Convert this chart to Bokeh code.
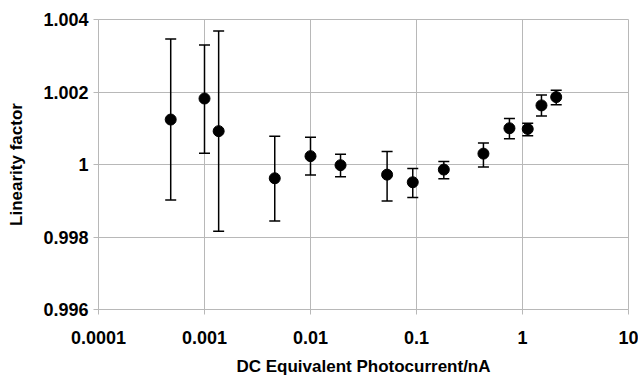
from bokeh.plotting import figure
from bokeh.models import ColumnDataSource, Whisker, TeeHead, FixedTicker, Range1d
from bokeh.embed import file_html
from bokeh.resources import INLINE

# Data
photocurrent = [0.00048, 0.00100, 0.00136, 0.0046, 0.0100, 0.0192, 0.0528, 0.0922,
                0.181, 0.428, 0.753, 1.12, 1.51, 2.08]
linearity = [1.00124, 1.00182, 1.00092, 0.99962, 1.00023, 0.99998, 0.99972, 0.99951,
             0.99986, 1.00030, 1.00100, 1.00098, 1.00163, 1.00186]
err_up = [0.00222, 0.00148, 0.00276, 0.00116, 0.00052, 0.00030, 0.00064, 0.00038,
          0.00022, 0.00029, 0.00027, 0.00016, 0.00029, 0.00019]
err_down = [0.00222, 0.00151, 0.00276, 0.00118, 0.00052, 0.00032, 0.00073, 0.00042,
            0.00025, 0.00037, 0.00029, 0.00019, 0.00029, 0.00021]

x_ticks = [0.0001, 0.001, 0.01, 0.1, 1, 10]
x_tick_labels = ["0.0001", "0.001", "0.01", "0.1", "1", "10"]
y_ticks = [0.996, 0.998, 1.0, 1.002, 1.004]
y_tick_labels = ["0.996", "0.998", "1", "1.002", "1.004"]

src = ColumnDataSource(dict(
    x=photocurrent, y=linearity,
    upper=[v + e for v, e in zip(linearity, err_up)],
    lower=[v - e for v, e in zip(linearity, err_down)],
))

p = figure(x_axis_type="log", frame_width=530, frame_height=290,
           x_range=Range1d(0.0001, 10), y_range=Range1d(0.996, 1.004),
           output_backend="svg", toolbar_location=None,
           min_border_left=98, min_border_right=10, min_border_top=19, min_border_bottom=66)

grey = "#b8b8b8"
p.outline_line_color = grey
p.background_fill_color = "white"
p.border_fill_color = "white"

p.xaxis.ticker = FixedTicker(ticks=x_ticks, minor_ticks=[])
p.yaxis.ticker = FixedTicker(ticks=y_ticks, minor_ticks=[])
p.xaxis.major_label_overrides = {t: l for t, l in zip(x_ticks, x_tick_labels)}
p.yaxis.major_label_overrides = {t: l for t, l in zip(y_ticks, y_tick_labels)}

for ax in (p.xaxis, p.yaxis):
    ax.axis_line_color = grey
    ax.major_tick_line_color = grey
    ax.major_tick_out = 5
    ax.major_tick_in = 0
    ax.minor_tick_line_color = None
    ax.major_label_text_font = "Liberation Sans"
    ax.major_label_text_font_style = "bold"
    ax.major_label_text_font_size = "18px"
    ax.major_label_text_color = "black"
    ax.axis_label_text_font = "Liberation Sans"
    ax.axis_label_text_font_style = "bold"
    ax.axis_label_text_font_size = "17px"
    ax.axis_label_text_color = "black"

p.xaxis.major_label_standoff = 16
p.yaxis.major_label_standoff = 5
p.xaxis.axis_label = "DC Equivalent Photocurrent/nA"
p.yaxis.axis_label = "Linearity factor"
p.xaxis.axis_label_standoff = 10
p.yaxis.axis_label_standoff = 14

p.xgrid.grid_line_color = grey
p.ygrid.grid_line_color = grey

w = Whisker(source=src, base="x", upper="upper", lower="lower", dimension="height",
            line_color="black", line_width=1.5,
            upper_head=TeeHead(size=11, line_color="black", line_width=1.5),
            lower_head=TeeHead(size=11, line_color="black", line_width=1.5))
p.add_layout(w)

p.scatter("x", "y", source=src, size=11, color="black")

open("out.html", "w").write(file_html(p, INLINE))
